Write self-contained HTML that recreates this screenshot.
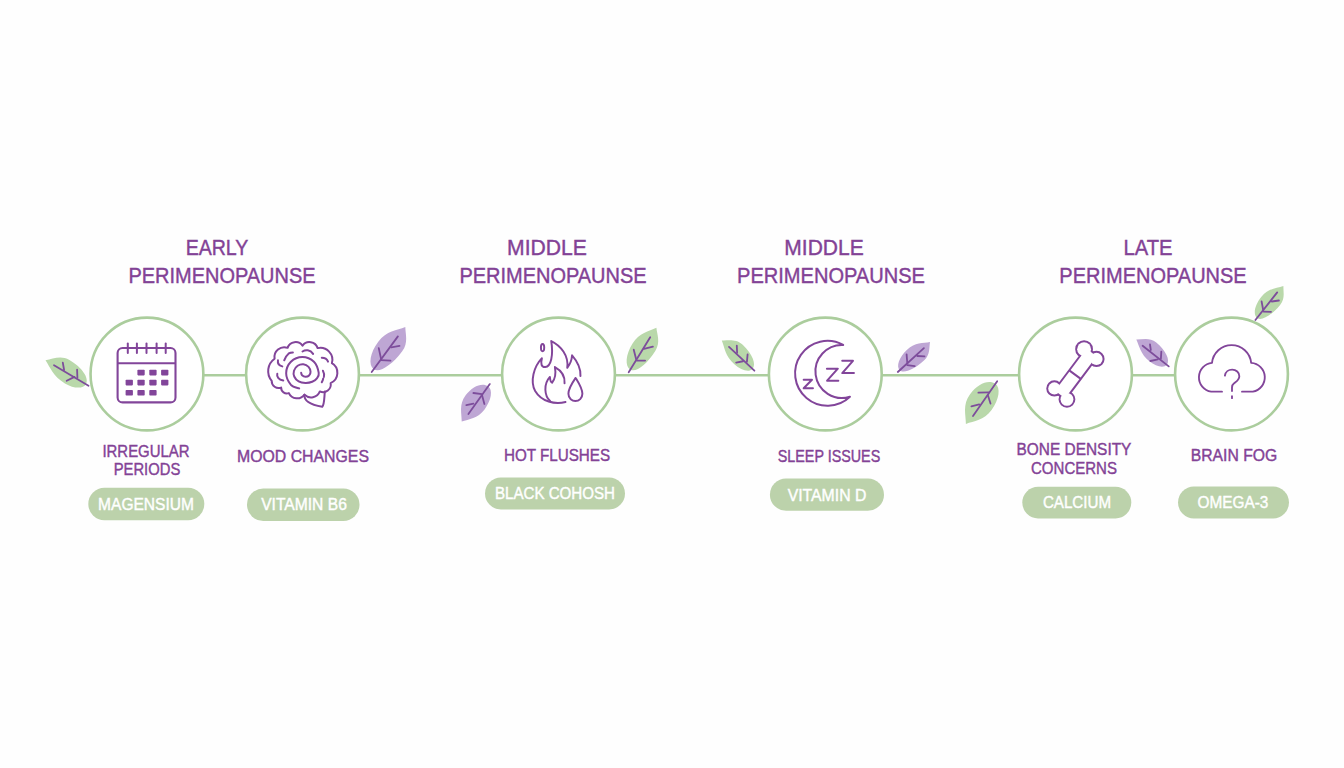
<!DOCTYPE html>
<html><head><meta charset="utf-8"><style>
html,body{margin:0;padding:0;background:#fefefe;width:1344px;height:768px;overflow:hidden}
body{position:relative;font-family:"Liberation Sans",sans-serif}
.t{position:absolute;width:600px;text-align:center;line-height:1;white-space:nowrap;transform-origin:300px 50%;-webkit-text-stroke:0.4px currentColor}
</style></head><body>
<svg width="1344" height="768" viewBox="0 0 1344 768" style="position:absolute;left:0;top:0"><line x1="203.35" y1="375.3" x2="246.10" y2="375.3" stroke="#abcd9d" stroke-width="2.5"/><line x1="358.90" y1="375.3" x2="502.10" y2="375.3" stroke="#abcd9d" stroke-width="2.5"/><line x1="614.90" y1="375.3" x2="768.90" y2="375.3" stroke="#abcd9d" stroke-width="2.5"/><line x1="881.70" y1="375.3" x2="1019.10" y2="375.3" stroke="#abcd9d" stroke-width="2.5"/><line x1="1131.90" y1="375.3" x2="1175.10" y2="375.3" stroke="#abcd9d" stroke-width="2.5"/><circle cx="146.95" cy="374.0" r="56.4" fill="#ffffff" stroke="#abcd9d" stroke-width="2.6"/><circle cx="302.5" cy="374.0" r="56.4" fill="#ffffff" stroke="#abcd9d" stroke-width="2.6"/><circle cx="558.5" cy="374.0" r="56.4" fill="#ffffff" stroke="#abcd9d" stroke-width="2.6"/><circle cx="825.3" cy="374.0" r="56.4" fill="#ffffff" stroke="#abcd9d" stroke-width="2.6"/><circle cx="1075.5" cy="374.0" r="56.4" fill="#ffffff" stroke="#abcd9d" stroke-width="2.6"/><circle cx="1231.5" cy="374.0" r="56.4" fill="#ffffff" stroke="#abcd9d" stroke-width="2.6"/><g transform="translate(88.50,385.70) rotate(-149.43)"><path d="M3.00,0 C3.00,-5.59 11.13,-9.99 21.47,-9.99 C35.71,-9.99 41.97,-3.80 49.94,0 C44.21,4.71 39.70,12.39 29.47,12.39 C14.64,12.39 3.00,6.94 3.00,0 Z" fill="#b9d8aa"/></g><path d="M88.5,385.7 L54.0,365.2" stroke="#7d4d9b" stroke-width="1.8" stroke-linecap="round" fill="none"/><path d="M64.1,370.0 L62.8,362.6" stroke="#7d4d9b" stroke-width="1.8" stroke-linecap="round" fill="none"/><path d="M77.4,377.9 L77.1,369.7" stroke="#7d4d9b" stroke-width="1.8" stroke-linecap="round" fill="none"/><path d="M74.5,376.9 L66.7,380.8" stroke="#7d4d9b" stroke-width="1.8" stroke-linecap="round" fill="none"/><g transform="translate(371.70,372.00) rotate(-53.25)"><path d="M3.37,0 C3.37,-7.17 14.24,-12.80 28.08,-12.80 C42.12,-12.80 48.30,-4.87 56.16,0 C50.18,4.59 45.49,12.07 34.82,12.07 C17.21,12.07 3.37,6.76 3.37,0 Z" fill="#bea6d4"/></g><path d="M371.7,372.0 L397.9,336.4" stroke="#7d4d9b" stroke-width="1.8" stroke-linecap="round" fill="none"/><path d="M381.1,359.0 L378.75,348.1" stroke="#7d4d9b" stroke-width="1.8" stroke-linecap="round" fill="none"/><path d="M381.1,360.2 L390.5,360.6" stroke="#7d4d9b" stroke-width="1.8" stroke-linecap="round" fill="none"/><path d="M391.25,347.3 L399.5,345.8" stroke="#7d4d9b" stroke-width="1.8" stroke-linecap="round" fill="none"/><g transform="translate(489.80,384.10) rotate(126.85)"><path d="M2.81,0 C2.81,-6.17 11.88,-11.01 23.43,-11.01 C35.15,-11.01 40.30,-4.18 46.86,0 C40.30,4.81 35.15,12.65 23.43,12.65 C11.88,12.65 2.81,7.09 2.81,0 Z" fill="#bea6d4"/></g><path d="M489.8,384.1 L468.4,414.1" stroke="#7d4d9b" stroke-width="1.8" stroke-linecap="round" fill="none"/><path d="M482.0,394.2 L473.4,393.0" stroke="#7d4d9b" stroke-width="1.8" stroke-linecap="round" fill="none"/><path d="M482.0,395.0 L484.4,404.0" stroke="#7d4d9b" stroke-width="1.8" stroke-linecap="round" fill="none"/><path d="M473.4,403.6 L466.4,405.2" stroke="#7d4d9b" stroke-width="1.8" stroke-linecap="round" fill="none"/><g transform="translate(628.70,372.30) rotate(-58.10)"><path d="M3.15,0 C3.15,-6.69 13.29,-11.95 26.21,-11.95 C39.31,-11.95 45.08,-4.54 52.42,0 C46.84,4.28 42.46,11.27 32.50,11.27 C16.06,11.27 3.15,6.31 3.15,0 Z" fill="#b9d8aa"/></g><path d="M628.7,372.3 L650.2,337.2" stroke="#7d4d9b" stroke-width="1.8" stroke-linecap="round" fill="none"/><path d="M636.1,359.0 L633.75,349.7" stroke="#7d4d9b" stroke-width="1.8" stroke-linecap="round" fill="none"/><path d="M636.9,360.6 L645.1,360.6" stroke="#7d4d9b" stroke-width="1.8" stroke-linecap="round" fill="none"/><path d="M643.9,348.9 L652.9,346.6" stroke="#7d4d9b" stroke-width="1.8" stroke-linecap="round" fill="none"/><g transform="translate(754.40,370.70) rotate(-137.09)"><path d="M2.67,0 C2.67,-4.98 9.92,-8.90 19.14,-8.90 C31.82,-8.90 37.40,-3.38 44.51,0 C39.40,4.19 35.38,11.04 26.26,11.04 C13.05,11.04 2.67,6.18 2.67,0 Z" fill="#b9d8aa"/></g><path d="M754.4,370.7 L729.0,346.9" stroke="#7d4d9b" stroke-width="1.8" stroke-linecap="round" fill="none"/><path d="M737.1,352.8 L736.8,345.6" stroke="#7d4d9b" stroke-width="1.8" stroke-linecap="round" fill="none"/><path d="M746.9,361.9 L747.6,354.4" stroke="#7d4d9b" stroke-width="1.8" stroke-linecap="round" fill="none"/><path d="M743.0,361.25 L736.2,362.6" stroke="#7d4d9b" stroke-width="1.8" stroke-linecap="round" fill="none"/><g transform="translate(897.80,372.00) rotate(-42.97)"><path d="M2.64,0 C2.64,-5.62 11.16,-10.03 22.00,-10.03 C33.01,-10.03 37.85,-3.81 44.01,0 C39.33,3.60 35.65,9.46 27.29,9.46 C13.48,9.46 2.64,5.30 2.64,0 Z" fill="#bea6d4"/></g><path d="M897.8,372.0 L923.9,348.2" stroke="#7d4d9b" stroke-width="1.8" stroke-linecap="round" fill="none"/><path d="M907.3,363.2 L906.6,354.4" stroke="#7d4d9b" stroke-width="1.8" stroke-linecap="round" fill="none"/><path d="M907.3,365.2 L914.7,366.1" stroke="#7d4d9b" stroke-width="1.8" stroke-linecap="round" fill="none"/><path d="M917.3,356.0 L924.5,356.4" stroke="#7d4d9b" stroke-width="1.8" stroke-linecap="round" fill="none"/><g transform="translate(997.20,381.30) rotate(126.31)"><path d="M3.17,0 C3.17,-6.96 13.41,-12.42 26.43,-12.42 C39.65,-12.42 45.46,-4.72 52.86,0 C45.46,5.42 39.65,14.27 26.43,14.27 C13.41,14.27 3.17,7.99 3.17,0 Z" fill="#b9d8aa"/></g><path d="M997.2,381.3 L973.0,416.1" stroke="#7d4d9b" stroke-width="1.8" stroke-linecap="round" fill="none"/><path d="M988.6,392.3 L978.4,392.7" stroke="#7d4d9b" stroke-width="1.8" stroke-linecap="round" fill="none"/><path d="M987.8,395.0 L990.5,403.6" stroke="#7d4d9b" stroke-width="1.8" stroke-linecap="round" fill="none"/><path d="M979.2,404.4 L971.4,406.3" stroke="#7d4d9b" stroke-width="1.8" stroke-linecap="round" fill="none"/><g transform="translate(1168.75,366.40) rotate(-140.34)"><path d="M2.53,0 C2.53,-4.72 9.39,-8.43 18.12,-8.43 C30.14,-8.43 35.42,-3.20 42.15,0 C37.31,3.97 33.51,10.45 24.87,10.45 C12.36,10.45 2.53,5.85 2.53,0 Z" fill="#bea6d4"/></g><path d="M1168.75,366.4 L1142.6,345.7" stroke="#7d4d9b" stroke-width="1.8" stroke-linecap="round" fill="none"/><path d="M1150.8,350.0 L1150.0,344.5" stroke="#7d4d9b" stroke-width="1.8" stroke-linecap="round" fill="none"/><path d="M1160.9,358.6 L1161.3,351.6" stroke="#7d4d9b" stroke-width="1.8" stroke-linecap="round" fill="none"/><path d="M1157.8,359.4 L1150.4,361.0" stroke="#7d4d9b" stroke-width="1.8" stroke-linecap="round" fill="none"/><g transform="translate(1255.40,320.00) rotate(-50.61)"><path d="M2.65,0 C2.65,-5.63 11.19,-10.06 22.06,-10.06 C33.09,-10.06 37.95,-3.82 44.12,0 C39.43,3.60 35.74,9.49 27.36,9.49 C13.52,9.49 2.65,5.31 2.65,0 Z" fill="#b9d8aa"/></g><path d="M1255.4,320.0 L1277.2,292.4" stroke="#7d4d9b" stroke-width="1.8" stroke-linecap="round" fill="none"/><path d="M1263.2,310.0 L1261.6,301.5" stroke="#7d4d9b" stroke-width="1.8" stroke-linecap="round" fill="none"/><path d="M1263.6,311.6 L1271.0,311.8" stroke="#7d4d9b" stroke-width="1.8" stroke-linecap="round" fill="none"/><path d="M1271.7,301.5 L1278.9,300.5" stroke="#7d4d9b" stroke-width="1.8" stroke-linecap="round" fill="none"/><rect x="117.6" y="348" width="57.9" height="54.4" rx="5" ry="5" fill="none" stroke="#82459a" stroke-width="2.1"/><line x1="117.6" y1="363.2" x2="175.5" y2="363.2" stroke="#82459a" stroke-width="2.1"/><line x1="127.8" y1="343.5" x2="127.8" y2="353" stroke="#82459a" stroke-width="2" stroke-linecap="round"/><line x1="136.9" y1="343.5" x2="136.9" y2="353" stroke="#82459a" stroke-width="2" stroke-linecap="round"/><line x1="146.5" y1="343.5" x2="146.5" y2="353" stroke="#82459a" stroke-width="2" stroke-linecap="round"/><line x1="156.6" y1="343.5" x2="156.6" y2="353" stroke="#82459a" stroke-width="2" stroke-linecap="round"/><line x1="165.7" y1="343.5" x2="165.7" y2="353" stroke="#82459a" stroke-width="2" stroke-linecap="round"/><rect x="137.4" y="369.8" width="7.3" height="5.6" rx="0.8" fill="#82459a"/><rect x="149.3" y="369.8" width="7.3" height="5.6" rx="0.8" fill="#82459a"/><rect x="161.1" y="369.8" width="7.3" height="5.6" rx="0.8" fill="#82459a"/><rect x="125.6" y="379.8" width="7.3" height="5.6" rx="0.8" fill="#82459a"/><rect x="137.4" y="379.8" width="7.3" height="5.6" rx="0.8" fill="#82459a"/><rect x="149.3" y="379.8" width="7.3" height="5.6" rx="0.8" fill="#82459a"/><rect x="161.1" y="379.8" width="7.3" height="5.6" rx="0.8" fill="#82459a"/><rect x="125.6" y="389.9" width="7.3" height="5.6" rx="0.8" fill="#82459a"/><rect x="137.4" y="389.9" width="7.3" height="5.6" rx="0.8" fill="#82459a"/><rect x="149.3" y="389.9" width="7.3" height="5.6" rx="0.8" fill="#82459a"/><g transform="translate(264,338) scale(0.09629)" fill="none" stroke="#82459a" stroke-width="20.77" stroke-linecap="round" stroke-linejoin="round"><path d="M 80 445 A 157.7 157.7 0 0 1 110 215 A 102.1 102.1 0 0 1 245 102 A 87.7 87.7 0 0 1 400 80 A 89.0 89.0 0 0 1 557 105 A 125.1 125.1 0 0 1 705 262 A 115.6 115.6 0 0 1 692 468 A 79.4 79.4 0 0 1 580 555 A 98.0 98.0 0 0 1 420 588 A 94.4 94.4 0 0 1 258 572 A 58.9 58.9 0 0 1 178 515 A 72.3 72.3 0 0 1 80 445 Z"/><path d="M 420 590 C 415 640, 470 690, 605 715 C 628 690, 625 620, 632 555"/><path d="M 210 232 C 220 200, 235 180, 250 168"/><path d="M 258 160 C 270 152, 285 150, 300 150"/><path d="M 400 140 C 430 120, 480 120, 510 165"/><path d="M 600 205 C 630 205, 655 220, 665 245"/><path d="M 612 340 C 628 370, 628 385, 622 405"/><path d="M 615 420 C 612 435, 605 450, 600 460"/><path d="M 145 232 C 140 260, 155 285, 190 295"/><path d="M 138 372 C 130 400, 150 430, 200 442"/></g><g transform="translate(282,352) scale(0.05208)" fill="none" stroke="#82459a" stroke-width="38.40" stroke-linecap="round" stroke-linejoin="round"><path d="M 330.0 700.0 C 303.5 688.3, 212.7 678.5, 171.0 630.0 C 129.3 581.5, 80.0 482.7, 80.0 409.0 C 80.0 335.3, 119.0 240.2, 171.0 188.0 C 223.0 135.8, 318.3 96.0, 392.0 96.0 C 465.7 96.0, 560.8 137.3, 613.0 188.0 C 665.2 238.7, 695.5 347.2, 705.0 400.0 C 714.5 452.8, 690.8 476.3, 670.0 505.0 C 649.2 533.7, 616.7 557.0, 580.0 572.0 C 543.3 587.0, 493.3 596.2, 450.0 595.0 C 406.7 593.8, 355.8 585.8, 320.0 565.0 C 284.2 544.2, 250.0 504.2, 235.0 470.0 C 220.0 435.8, 219.2 394.2, 230.0 360.0 C 240.8 325.8, 270.0 285.8, 300.0 265.0 C 330.0 244.2, 375.0 231.7, 410.0 235.0 C 445.0 238.3, 487.0 260.8, 510.0 285.0 C 533.0 309.2, 546.3 352.5, 548.0 380.0 C 549.7 407.5, 536.3 434.2, 520.0 450.0 C 503.7 465.8, 472.5 475.8, 450.0 475.0 C 427.5 474.2, 398.7 457.8, 385.0 445.0 C 371.3 432.2, 370.8 405.8, 368.0 398.0 "/></g><g transform="translate(526,336) scale(0.09639)" fill="none" stroke="#82459a" stroke-width="20.23" stroke-linecap="round" stroke-linejoin="round"><path d="M 410 685 C 300 715, 160 680, 95 570 C 40 470, 80 320, 165 230 C 150 290, 160 325, 200 322 C 260 318, 285 200, 262 52 C 360 100, 445 200, 428 330 C 460 290, 475 250, 478 200 C 530 260, 570 340, 565 415"/><path d="M 250 675 C 190 620, 180 500, 248 425 C 250 450, 260 480, 270 485 C 300 450, 310 380, 300 322 C 370 360, 405 420, 400 490"/><ellipse cx="172" cy="120" rx="17" ry="38"/><path d="M 515 435 C 470 500, 440 545, 440 600 C 440 650, 480 675, 512 675 C 550 675, 585 645, 585 600 C 585 545, 555 500, 515 435 Z"/></g><g transform="translate(790,335) scale(0.09763)" fill="none" stroke="#82459a" stroke-width="20.49" stroke-linecap="round" stroke-linejoin="round"><path d="M 545 102 A 332 332 0 1 0 614 632 A 271.5 271.5 0 1 1 545 102 Z"/><path d="M 140 458 L 225 458 L 140 545 L 235 545"/><path d="M 378 345 L 490 345 L 380 468 L 495 468"/><path d="M 535 265 L 645 265 L 535 390 L 655 390"/></g><g transform="translate(1042,336) scale(0.09901)" fill="none" stroke="#82459a" stroke-width="20.20" stroke-linecap="round" stroke-linejoin="round"><g stroke="#82459a" stroke-width="40" fill="#82459a"><circle cx="425" cy="133" r="70"/><circle cx="550" cy="232" r="62"/><circle cx="125" cy="530" r="62"/><circle cx="252" cy="640" r="65"/><rect x="-110" y="-63" width="530" height="126" transform="translate(248.4,503.8) rotate(-53.13)"/></g><g stroke="none" fill="#ffffff"><circle cx="425" cy="133" r="70"/><circle cx="550" cy="232" r="62"/><circle cx="125" cy="530" r="62"/><circle cx="252" cy="640" r="65"/><rect x="-110" y="-63" width="530" height="126" transform="translate(248.4,503.8) rotate(-53.13)"/></g><path d="M 282 352 L 385 428"/></g><g transform="translate(1192,340) scale(0.08333)" fill="none" stroke="#82459a" stroke-width="22.20" stroke-linecap="round" stroke-linejoin="round"><path d="M 360 620 L 230 620 A 174 174 0 0 1 240 275 A 236 236 0 0 1 710 275 A 174 174 0 0 1 730 620 L 600 620"/><path d="M 395 428 C 400 380, 440 355, 482 355 C 530 355, 568 390, 568 435 C 568 480, 530 500, 505 520 C 485 535, 480 550, 480 570 L 480 612"/><path d="M 480 675 L 480 698"/></g><rect x="88.3" y="487.8" width="116.00" height="32.40" rx="16.20" fill="#bcd2ab"/><rect x="247.0" y="488.6" width="112.50" height="32.50" rx="16.25" fill="#bcd2ab"/><rect x="485.0" y="477.5" width="140.00" height="31.90" rx="15.95" fill="#bcd2ab"/><rect x="769.9" y="478.5" width="114.10" height="32.30" rx="16.15" fill="#bcd2ab"/><rect x="1022.3" y="486.8" width="109.00" height="31.60" rx="15.80" fill="#bcd2ab"/><rect x="1178.0" y="486.6" width="111.00" height="31.90" rx="15.95" fill="#bcd2ab"/></svg>
<div class="t" style="left:-83.46px;top:238.38px;font-size:21.5px;color:#834296;transform:scaleX(0.9099)">EARLY</div><div class="t" style="left:-78.39px;top:266.30px;font-size:21.5px;color:#834296;transform:scaleX(0.9283)">PERIMENOPAUNSE</div><div class="t" style="left:246.67px;top:238.38px;font-size:21.5px;color:#834296;transform:scaleX(0.9828)">MIDDLE</div><div class="t" style="left:252.66px;top:266.28px;font-size:21.5px;color:#834296;transform:scaleX(0.9292)">PERIMENOPAUNSE</div><div class="t" style="left:524.30px;top:238.38px;font-size:21.5px;color:#834296;transform:scaleX(0.9765)">MIDDLE</div><div class="t" style="left:530.99px;top:266.28px;font-size:21.5px;color:#834296;transform:scaleX(0.9322)">PERIMENOPAUNSE</div><div class="t" style="left:847.51px;top:238.38px;font-size:21.5px;color:#834296;transform:scaleX(0.9384)">LATE</div><div class="t" style="left:852.75px;top:266.28px;font-size:21.5px;color:#834296;transform:scaleX(0.9296)">PERIMENOPAUNSE</div><div class="t" style="left:-154.41px;top:443.06px;font-size:16.4px;color:#834296;transform:scaleX(0.9115)">IRREGULAR</div><div class="t" style="left:-153.19px;top:461.08px;font-size:16.4px;color:#834296;transform:scaleX(0.9020)">PERIODS</div><div class="t" style="left:3.32px;top:448.08px;font-size:16.4px;color:#834296;transform:scaleX(0.9656)">MOOD CHANGES</div><div class="t" style="left:257.07px;top:446.90px;font-size:16.4px;color:#834296;transform:scaleX(0.9273)">HOT FLUSHES</div><div class="t" style="left:528.87px;top:447.90px;font-size:16.4px;color:#834296;transform:scaleX(0.8741)">SLEEP ISSUES</div><div class="t" style="left:774.13px;top:441.00px;font-size:16.4px;color:#834296;transform:scaleX(0.9408)">BONE DENSITY</div><div class="t" style="left:774.38px;top:459.96px;font-size:16.4px;color:#834296;transform:scaleX(0.9161)">CONCERNS</div><div class="t" style="left:934.14px;top:446.92px;font-size:16.4px;color:#834296;transform:scaleX(0.9599)">BRAIN FOG</div><div class="t" style="left:-153.98px;top:496.85px;font-size:16.0px;color:#ffffff;transform:scaleX(0.9707)">MAGENSIUM</div><div class="t" style="left:3.85px;top:496.87px;font-size:16.0px;color:#ffffff;transform:scaleX(0.9768)">VITAMIN B6</div><div class="t" style="left:254.58px;top:485.93px;font-size:16.0px;color:#ffffff;transform:scaleX(0.9442)">BLACK COHOSH</div><div class="t" style="left:526.65px;top:487.83px;font-size:16.0px;color:#ffffff;transform:scaleX(0.9874)">VITAMIN D</div><div class="t" style="left:777.15px;top:494.85px;font-size:16.0px;color:#ffffff;transform:scaleX(0.9466)">CALCIUM</div><div class="t" style="left:932.92px;top:494.85px;font-size:16.0px;color:#ffffff;transform:scaleX(0.9602)">OMEGA-3</div>
</body></html>
